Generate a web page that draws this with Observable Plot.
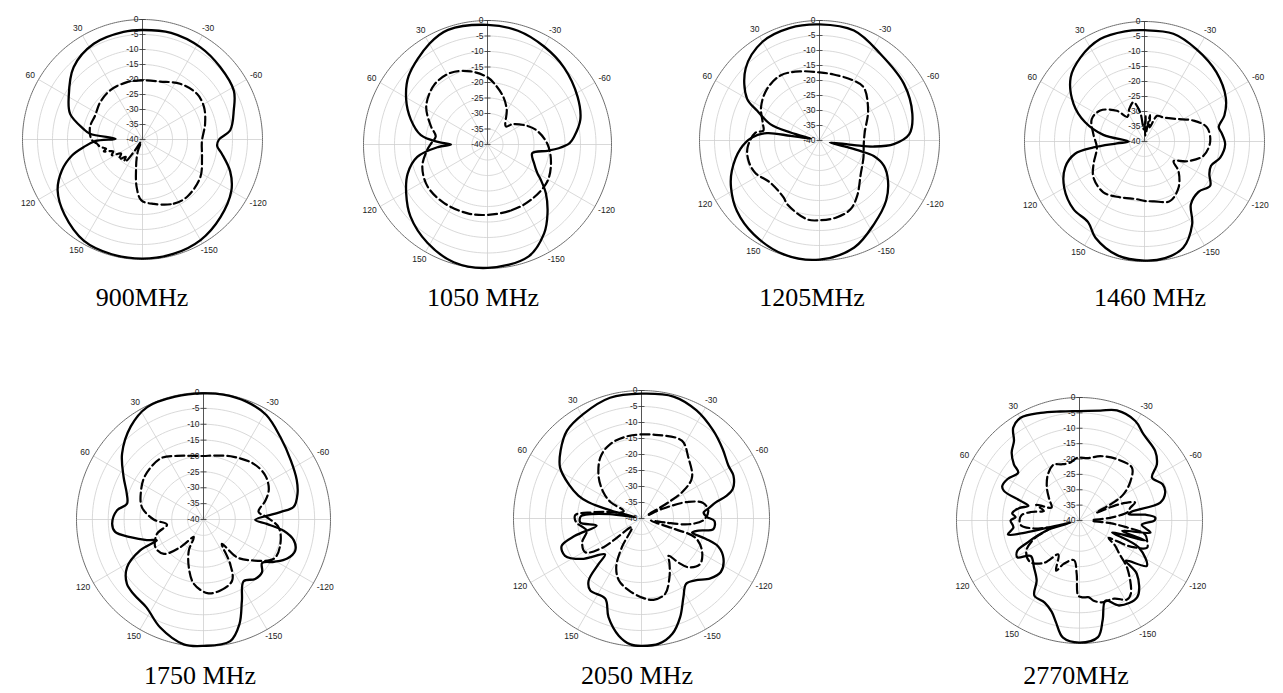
<!DOCTYPE html>
<html><head><meta charset="utf-8">
<script src="https://cdn.jsdelivr.net/npm/d3@7"></script>
<script src="https://cdn.jsdelivr.net/npm/@observablehq/plot@0.6"></script>
<style>
html,body{margin:0;padding:0;background:#fff;}
#root{position:relative;width:1283px;height:693px;overflow:hidden;background:#fff;}
.cap{position:absolute;width:240px;text-align:center;font-family:"Liberation Serif","Times New Roman",serif;font-size:26px;line-height:1;color:#000;white-space:nowrap;}
</style></head><body><div id="root"></div>
<script>
// ---------- axis tick values ----------
const ringLevels = [0, -5, -10, -15, -20, -25, -30, -35, -40];
const ringLabels = ["0", "-5", "-10", "-15", "-20", "-25", "-30", "-35", "-40"];
const spokeAngles = [0, 30, 60, 90, 120, 150, 180, -150, -120, -90, -60, -30];
const spokeLabels = ["0", "30", "60", "90", "120", "150", "-180", "-150", "-120", "-90", "-60", "-30"];
const captions = ["900MHz", "1050 MHz", "1205MHz", "1460 MHz", "1750 MHz", "2050 MHz", "2770MHz"];

// ---------- data: angle (deg, + = counter-clockwise from top) and level (dB) ----------
// 900 MHz
const co900A = [-180,-165,-150,-135,-120,-110,-100,-95,-90,-84,-72,-62,-47,-32,-15,0,10,27,43.6,60,70.5,79.8,83.8,88.6,92,97.4,102.8,111,121,134,150,165];
const co900D = [-0.3,-0.5,-1.3,-3.3,-5.8,-8.9,-13.2,-15,-14.5,-10.6,-8,-5.5,-4.6,-3.7,-3.2,-3.5,-3.6,-4.2,-6.7,-11.6,-14.4,-20,-22.4,-31,-24.2,-20.2,-15.9,-11.2,-7,-3.9,-1,-0.4];
const x900A = [-170,-154,-142,-123,-106.6,-92,-76,-62,-50,-34,-17,0,15,33.4,48.6,63,77,90,95,100,104,107,112,117,123,130,136,140,143,145,150,158,162,167,173,179];
const x900D = [-18.2,-16.2,-15.8,-17,-19.3,-20.2,-18.5,-16.8,-16.3,-17.6,-19.8,-20.3,-20.2,-20.4,-21.2,-22.3,-22,-23,-24.7,-25.7,-27.5,-26.5,-29.5,-28.5,-31.5,-29.8,-32,-30.5,-31.2,-34.8,-39,-36,-33.8,-30.5,-24,-19.7];
// 1050 MHz
const co1050A = [-180,-160,-147.5,-139,-130,-123.5,-120,-112,-101,-96,-93,-89,-85,-75,-62,-45,-30,-15,0,19,30,49,61,72,82,87,90,93,100,110,121,133,148.7,164];
const co1050D = [-0.2,-1.5,-6,-10.5,-15.4,-19.4,-21.4,-23.8,-25.3,-20.5,-17,-13.5,-12,-9,-7.1,-5,-3.5,-2,-1.4,-0.9,-2.5,-6.3,-10,-14,-18.3,-24,-28.2,-24,-17,-12.6,-9.4,-6,-2.8,-0.5];
const x1050A = [-180,-160,-142,-122,-106,-90,-75,-65,-51,-45.5,-29,-18,-6,0,12.9,27,41.8,58,72,81,88,95,108.7,125,143.5,164];
const x1050D = [-17.3,-17.4,-17.3,-17.3,-18.7,-20.6,-23.3,-25.8,-29.6,-31.7,-27.2,-23.7,-20.1,-18.3,-15.8,-14,-14.2,-16.7,-20.8,-23.1,-22,-20.5,-17.8,-16.4,-16.5,-16.9];
// 1205 MHz
const co1205A = [-180,-162,-147,-132,-120.5,-111.5,-106,-104.5,-103.5,-101,-97.5,-96.3,-92.8,-86,-74,-56,-35,-17.4,0,15,30,45.7,60,64.5,71.6,74.6,77,79,81,82,87.4,96,109,118,130.5,145,162.6];
const co1205D = [-0.3,-2.5,-6.7,-10.1,-13.5,-16.9,-21.2,-25.8,-30.4,-36.5,-28.4,-21.7,-15.2,-10,-7.8,-6.1,-4.7,-1.6,-1.3,-1.2,-2,-5.6,-12.1,-17,-22.7,-30,-37,-36,-30.2,-22.3,-17.5,-13.5,-9.1,-6.6,-3.8,-1.8,-0.2];
const x1205A = [-180,-168,-156,-146,-129,-111,-95,-80,-58.5,-40,-30,-12,0,15.4,31,46.5,60.5,74,80,83,95.6,106,116.6,130.6,148,153,171];
const x1205D = [-13.4,-13.7,-14.8,-17.6,-22.3,-24.3,-25.2,-24.7,-21,-17,-17,-17.5,-17.3,-16.1,-14.7,-15.6,-17.6,-20.4,-21,-18.5,-15.9,-15.4,-16,-18.4,-17.5,-16.2,-13.4];
// 1460 MHz
const co1460A = [-180,-170,-160,-150,-143.5,-133,-124,-116.7,-110,-102,-92,-84,-79,-72,-61.6,-46,-29.5,-15,0,10,23.4,37.4,49,62,72,80.8,90,94,96.7,100,108,120,133.6,145,153,166.7];
const co1460D = [-0.3,-0.5,-2.3,-8.2,-14,-15.4,-13.6,-15.8,-16.4,-14.2,-13.1,-14.1,-14.8,-12,-9.2,-6.7,-4.7,-2.8,-2.9,-2.7,-2.8,-4.8,-7.4,-13.2,-19.2,-26.1,-34.7,-30.8,-22.9,-16.5,-12.2,-9.1,-7.3,-7.2,-4,-1];
const x1460A = [-180,-171,-157,-143.5,-131,-124,-115,-103.7,-90,-77,-67,-55,-38,-26,-20,-12,-6,-3,3,8.5,15.7,25,35,42,55,67,82,97,114,125,141,156.5,172];
const x1460D = [-20.2,-19.8,-18.4,-20.9,-25,-28.3,-24.4,-19.8,-18.1,-18.7,-22.2,-26.9,-29.8,-30.5,-35,-31,-38,-31.5,-36,-30.2,-26.4,-28,-30,-26.2,-22,-20.9,-22.8,-24,-21.4,-19.2,-18.2,-19.7,-20.6];
// 1750 MHz
const co1750A = [-180,-167.6,-161,-154.7,-147,-139,-132,-126.6,-121,-115,-108.7,-103,-98,-94,-90.4,-84.5,-82,-74.7,-67,-56,-43,-31,-20,-9,0,13,26.6,38,51,62,71.4,78.4,84,92.7,98,103.6,110,114,116,122,130,137,147,158,171];
const co1750D = [-0.2,-0.8,-5.2,-11.7,-16.8,-15.2,-15.2,-17,-14.1,-10.9,-9.5,-10.8,-14.5,-20,-23.7,-15.7,-11.3,-9.3,-8.1,-6.8,-4.5,-1.6,-0.5,-0.2,-0.3,-0.3,-0.4,-2.8,-7,-11.5,-14.5,-15.4,-12.6,-11.2,-11.9,-16.3,-21,-23.9,-17.8,-11.6,-8.5,-7.8,-7,-3.4,-0.2];
const x1750A = [-177,-167,-155,-149,-143,-138.5,-131,-119,-107.6,-96,-88,-82,-73,-65,-54.5,-42,-25.7,-9,0,22.6,35,53,65,78.6,90,98,107,120,131,140,151,154.7,163,171.5];
const x1750D = [-16.8,-17,-18.7,-23.7,-30.4,-24.1,-20.4,-14.6,-14.6,-16.2,-20,-22.5,-19.6,-17.3,-16.1,-16.4,-18.1,-19.6,-20,-18.3,-16.5,-17,-18.3,-20.2,-24.3,-28.4,-24.7,-22.5,-23.5,-28.6,-33.7,-29.2,-24.2,-19.5];
// 2050 MHz
const co2050A = [-180,-172,-165,-158.6,-152,-145.6,-139,-131,-124,-116,-110,-107.5,-105.5,-102,-98.4,-92,-88.5,-84.5,-81,-78,-75,-72,-65,-58.6,-49.4,-39,-27,-14.7,0,14.6,29,40.3,50,58,65,70,73,75.5,78,82,86,88,93.7,99,104.6,109,116,124,134.5,136.7,139.6,144.5,155.7,161.5,169,175];
const co2050D = [-0.2,-0.5,-2.7,-6.9,-12.1,-15.3,-14.4,-11.5,-10.1,-11.5,-14.5,-19,-23.6,-21.8,-17.3,-17.2,-19.6,-20.5,-18.5,-16.5,-12.4,-10,-8.3,-8.2,-6.6,-4.5,-2.1,-0.6,-1,-1,-2.6,-4,-7,-10,-15,-19,-22.7,-30.4,-38,-30,-22.5,-21,-20.8,-25.8,-18.5,-13.6,-13.4,-17.4,-24,-20.4,-14.5,-12.4,-12.5,-7.5,-2.7,-0.5];
const x2050A = [-179,-171.6,-162.6,-154.5,-148,-144,-140,-136,-128,-118,-109.5,-107.6,-103,-99.6,-97,-91.5,-83.5,-76,-70.5,-65,-62,-59,-56.6,-51,-37.6,-27.4,-9.3,9,23,34,46,55.6,62,67,73,80,83,87,93,100,103,112,121,127,132,145.6,152.5,160,170];
const x2050D = [-15.2,-14.3,-15.3,-19.7,-23.5,-25.6,-22,-18.8,-16.8,-18.6,-22.2,-29,-37,-32.5,-25.2,-20.6,-19,-20.1,-24.4,-33,-38,-30.2,-24.3,-19.7,-16,-12.6,-13.5,-13.9,-14.8,-17,-21.4,-25.6,-29,-34,-33.5,-28,-24.4,-19.3,-19.5,-22,-22.5,-20,-19.5,-25,-36,-29.2,-22.9,-19.4,-17.2];
// 2770 MHz
const co2770A = [-180,-171,-167,-162,-155,-143,-133,-131,-124,-114.5,-110,-107,-103.6,-99.6,-94,-90,-87.7,-85,-82.7,-80.3,-77.5,-72,-66.4,-59.4,-54,-47.5,-36.7,-29.3,-18.8,-10.8,0,10,19.9,29.8,35.5,39.5,45,49.4,52,60,66,68.6,71.6,74,78.5,84,87,90,96,101,102.5,103.5,106,110,113,116,120.7,126,136,144.5,149,157,163,167,172];
const co2770D = [-0.3,-1.6,-6.6,-12.6,-9.5,-8.8,-14.5,-20.1,-13.6,-18.8,-28.7,-17.6,-25.7,-16.6,-19.7,-15.6,-15.4,-18.5,-23.9,-22.7,-13.1,-10.7,-10.5,-12.6,-8.9,-6.6,-5.1,-2.9,-2.2,-3.6,-4.4,-4,-2.8,-1.5,-2.9,-6.5,-8.8,-11.9,-14.7,-13,-12.5,-13.6,-19.8,-22.7,-19.9,-18,-19.2,-17.6,-18.4,-16.3,-20.5,-37,-30,-25.4,-21.6,-17.5,-16.5,-20.4,-18.7,-16,-11.5,-11,-9,-6,-1.5];
const x2770A = [-178,-173,-170,-164.5,-156,-149,-145,-135,-130,-125,-121,-118,-116,-112,-107,-102,-98,-95,-90,-85,-80,-76,-72,-69,-67,-65,-62,-59,-53,-44.8,-31.6,-18,-8,2,10,18,25,35,45,55,65,70,75,80,85,90,95,100,104,112,120,130,140,148,155,160,172,177,179];
const x2770D = [-15,-14.8,-13.5,-12.4,-12.2,-10,-10.9,-18,-23,-26,-29,-23,-20,-16.3,-17,-18.2,-25,-30,-36,-30,-24,-23,-21,-24,-28,-34,-27,-23.2,-19.4,-15.8,-16.6,-18,-19.5,-19.6,-21,-20.8,-20,-22,-25,-28,-30,-25,-28,-24,-21,-20.5,-21,-25,-30,-24,-20,-19,-22,-27,-22,-25,-27,-22.6,-15.6];

// ---------- layout (pixel placement of each polar panel) ----------
const layout = [
  {cx: 142, cy: 139, R: 120, capX: 142, capBase: 307},
  {cx: 487, cy: 144, R: 124, capX: 483, capBase: 307},
  {cx: 819, cy: 139.5, R: 120, capX: 812, capBase: 307},
  {cx: 1144, cy: 141, R: 120, capX: 1150, capBase: 307},
  {cx: 203, cy: 519, R: 127, capX: 200, capBase: 685},
  {cx: 641, cy: 518, R: 128, capX: 637, capBase: 685},
  {cx: 1079, cy: 519.5, R: 123, capX: 1076, capBase: 685}
];
const series = [
  [co900A, co900D, x900A, x900D],
  [co1050A, co1050D, x1050A, x1050D],
  [co1205A, co1205D, x1205A, x1205D],
  [co1460A, co1460D, x1460A, x1460D],
  [co1750A, co1750D, x1750A, x1750D],
  [co2050A, co2050D, x2050A, x2050D],
  [co2770A, co2770D, x2770A, x2770D]
];

// polar mapping onto an azimuthal-equidistant projection centred on the pole
const K = 0.25;            // degrees of arc per dB
const RD = 40 * K;         // arc radius of the 0 dB circle
const lonOf = a => a + 180;
const latOf = v => 90 - (Math.max(-40, Math.min(0, v)) + 40) * K;
const tickSymbol = {draw(ctx, size) { const r = Math.sqrt(size / Math.PI); ctx.moveTo(-r, 0); ctx.lineTo(r, 0); }};
const FONT = "Liberation Sans, Arial, Helvetica, sans-serif";

function polarPlot(L, coA, coD, xA, xD) {
  const m = 30, size = 2 * L.R + 2 * m;
  const co = coA.map((a, i) => ({a, v: coD[i]}));
  const xp = xA.map((a, i) => ({a, v: xD[i]}));
  const inner = ringLevels.filter(v => v > -40 && v < 0);
  const labelLat = 90 - RD * (1 + 5 / L.R);
  const angleLabels = spokeAngles.map((a, i) => {
    const t = a * Math.PI / 180;
    const ux = -Math.sin(t), uy = -Math.cos(t);
    const txt = spokeLabels[i];
    const w = txt.replace("-", "").length * 4.73 + (txt.startsWith("-") ? 2.83 : 0);
    return Plot.text([a], {
      x: d => lonOf(d), y: () => labelLat, text: () => txt,
      dx: ux * w / 2, dy: uy * 3.4,
      fontSize: 8.5, fill: "#222", textAnchor: "middle", lineAnchor: "middle"
    });
  });
  const svg = Plot.plot({
    width: size, height: size, margin: m,
    style: {background: "transparent", overflow: "visible", fontFamily: FONT},
    projection: {
      type: "azimuthal-equidistant",
      rotate: [0, -90],
      domain: d3.geoCircle().center([0, 90]).radius(RD)()
    },
    marks: [
      Plot.geo(inner, {geometry: v => d3.geoCircle().center([0, 90]).radius((v + 40) * K).precision(2)(), fill: "none", stroke: "#cfcfcf", strokeWidth: 0.8}),
      Plot.link(spokeAngles, {x1: d => lonOf(d), y1: () => 90, x2: d => lonOf(d), y2: () => latOf(0), stroke: "#cfcfcf", strokeWidth: 0.8}),
      Plot.geo([0], {geometry: () => d3.geoCircle().center([0, 90]).radius(RD).precision(1)(), fill: "none", stroke: "#6e6e6e", strokeWidth: 1}),
      Plot.link([0], {x1: d => lonOf(d), y1: () => 90, x2: d => lonOf(d), y2: () => latOf(0), stroke: "#333", strokeWidth: 0.8}),
      Plot.dot(ringLevels, {x: () => lonOf(0), y: d => latOf(d), symbol: tickSymbol, r: 3, fill: "none", stroke: "#333", strokeWidth: 0.8}),
      Plot.text(ringLevels, {x: () => lonOf(0), y: d => latOf(d), text: (d, i) => ringLabels[i], textAnchor: "end", lineAnchor: "middle", dx: -4, fontSize: 8.5, fill: "#222"}),
      ...angleLabels,
      Plot.line(xp, {x: d => lonOf(d.a), y: d => latOf(d.v), curve: "catmull-rom-closed", stroke: "#000", strokeWidth: 2.2, strokeDasharray: "9,4", strokeLinejoin: "round"}),
      Plot.line(co, {x: d => lonOf(d.a), y: d => latOf(d.v), curve: "catmull-rom-closed", stroke: "#000", strokeWidth: 2.3, strokeLinejoin: "round"})
    ]
  });
  svg.style.position = "absolute";
  svg.style.left = (L.cx - L.R - m) + "px";
  svg.style.top = (L.cy - L.R - m) + "px";
  svg.style.maxWidth = "none";
  return svg;
}

const root = document.getElementById("root");
layout.forEach((L, i) => {
  const [a, b, c, d] = series[i];
  root.appendChild(polarPlot(L, a, b, c, d));
});
layout.forEach((L, i) => {
  const div = document.createElement("div");
  div.className = "cap";
  div.textContent = captions[i];
  div.style.left = (L.capX - 120) + "px";
  div.style.top = (L.capBase - 21.8) + "px";
  root.appendChild(div);
});
</script>
</body></html>
